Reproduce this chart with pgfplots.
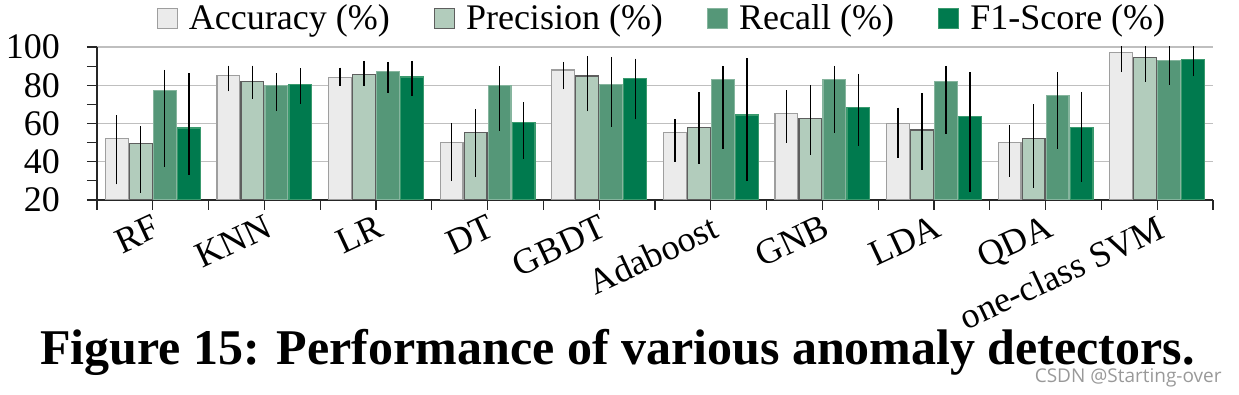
\documentclass[border=0pt]{standalone}
\usepackage{pgfplots}
\usepackage{pgfplotstable}
\pgfplotsset{compat=1.18}
\usepackage{fontspec}
\setmainfont{Liberation Serif}
\newfontfamily\wmfont{Open Sans}
\definecolor{cAcc}{HTML}{EBEBEB}
\definecolor{bAcc}{HTML}{9E9E9E}
\definecolor{cPre}{HTML}{B2CCBC}
\definecolor{bPre}{HTML}{5E5E5E}
\definecolor{cRec}{HTML}{559778}
\definecolor{bRec}{HTML}{86B59E}
\definecolor{cF}{HTML}{007A4E}
\definecolor{bF}{HTML}{3A9A6E}

% value, error up (P), error down (M)
\pgfplotstableread{
x acc accP accM prec precP precM rec recP recM f1 f1P f1M
0 52.0 12.3 23.8 49.6 8.9 25.8 77.2 10.8 39.8 57.6 28.8 24.5
1 85.0 5.2 8.2 81.9 8.3 8.9 80.0 6.4 13.5 80.3 8.6 9.9
2 83.9 5.3 4.1 85.7 7.0 6.2 87.0 5.2 11.1 84.3 8.4 9.8
3 50.1 10.0 20.2 55.4 12.0 23.2 80.0 10.1 23.8 60.6 10.6 19.2
4 88.0 4.2 10.1 84.8 10.3 18.4 80.5 14.3 22.2 83.6 10.3 21.4
5 55.2 7.2 15.3 58.0 18.3 19.0 83.1 7.0 36.3 64.4 29.7 34.5
6 65.1 12.3 15.1 62.7 17.4 19.3 82.9 7.2 27.7 68.5 17.5 20.1
7 60.1 8.2 18.0 56.6 19.3 20.9 81.9 8.2 27.2 63.6 23.2 39.3
8 50.1 9.1 17.9 52.3 17.7 25.9 74.5 12.4 27.7 58.0 18.5 28.4
9 97.0 8.0 10.1 94.4 8.0 12.5 92.8 8.0 12.5 93.6 8.0 8.9
}\data

\pgfplotsset{errb/.style={error bars/.cd, y dir=both, y explicit, error mark=none, error bar style={line width=0.7pt, black}}}

\begin{document}
\begin{tikzpicture}
\useasboundingbox (0,0) rectangle (619.5pt,197.5pt);
\begin{axis}[
  at={(48.5pt,97.5pt)}, anchor=south west,
  scale only axis, width=558pt, height=76.5pt,
  xmin=-0.5, xmax=9.5, ymin=20, ymax=100,
  ybar, bar width=11.35pt,
  axis x line*=bottom, axis y line*=left,
  axis line style={black!85, line width=0.6pt},
  tick align=outside, major tick length=5pt, minor tick length=5pt,
  tick style={black!85, line width=0.6pt},
  xtick={0,...,9},
  xticklabels={RF,KNN,LR,DT,GBDT,Adaboost,GNB,LDA,QDA,one-class SVM},
  minor xtick={-0.5,0.5,...,9.5},
  ytick={20,40,60,80,100},
  minor ytick={30,50,70,90},
  ymajorgrids, major grid style={color=black!25, line width=0.6pt},
  /pgf/number format/assume math mode=true,
  yticklabel style={font=\fontsize{18}{20}\selectfont, xshift=-10pt},
  xticklabel style={font=\fontsize{18}{20}\selectfont, rotate=25, anchor=north east, inner sep=0pt, yshift=-1.5pt, xshift=-1pt},
  legend style={at={(0.5,1)}, anchor=south, xshift=4pt, yshift=3pt, draw=none, fill=none,
    font=\fontsize{18}{20}\selectfont, legend columns=-1,
    /tikz/every odd column/.append style={column sep=3.5pt},
    /tikz/every even column/.append style={column sep=20pt}},
  legend image code/.code={\draw[#1] (0pt,-5pt) rectangle (10pt,5pt);},
]
\addplot[fill=cAcc, draw=bAcc, line width=0.6pt, bar shift=-18pt, errb] table[x=x, y=acc, y error plus=accP, y error minus=accM]{\data};
\addplot[fill=cPre, draw=bPre, line width=0.6pt, bar shift=-6pt, errb] table[x=x, y=prec, y error plus=precP, y error minus=precM]{\data};
\addplot[fill=cRec, draw=bRec, line width=0.6pt, bar shift=6pt, errb] table[x=x, y=rec, y error plus=recP, y error minus=recM]{\data};
\addplot[fill=cF, draw=bF, line width=0.6pt, bar shift=18pt, errb] table[x=x, y=f1, y error plus=f1P, y error minus=f1M]{\data};
\legend{Accuracy (\%), Precision (\%), Recall (\%), F1-Score (\%)}
\end{axis}
\node[anchor=base, font=\bfseries\fontsize{25}{28}\selectfont] at (308.75pt,15pt) {Figure 15: Performance of various anomaly detectors.};
\node[anchor=base east, inner sep=0pt, text=black!40, font=\wmfont\fontsize{9.5}{10}\selectfont] at (611pt,6pt) {CSDN @Starting-over};
\end{tikzpicture}
\end{document}
